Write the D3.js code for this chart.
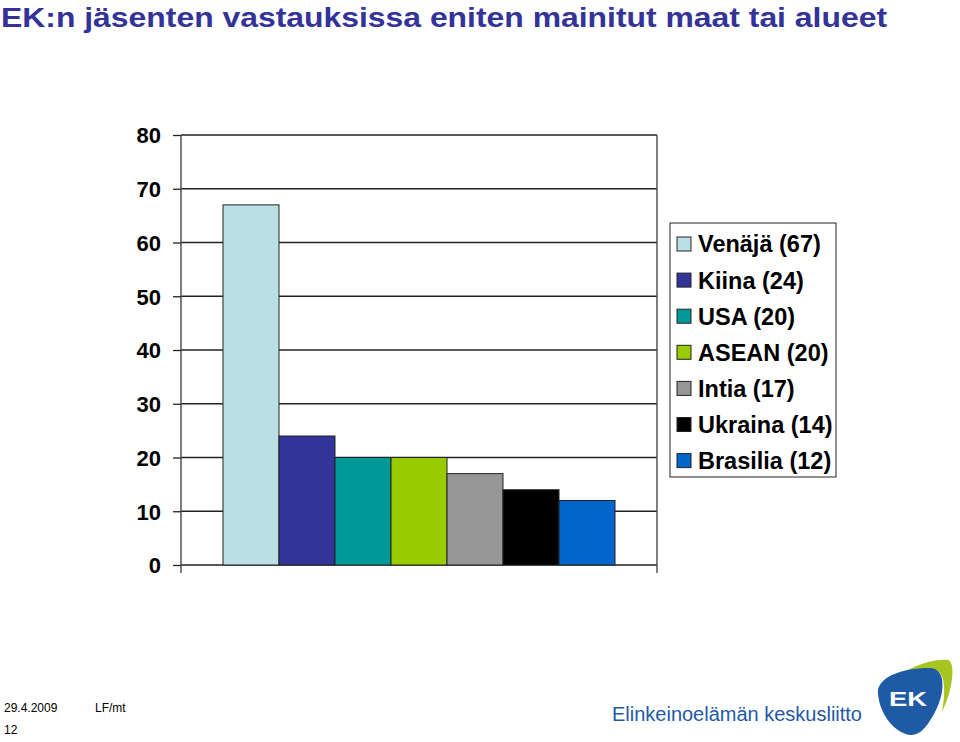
<!DOCTYPE html>
<html>
<head>
<meta charset="utf-8">
<script src="https://cdn.jsdelivr.net/npm/d3@7"></script>
<style>
  html, body { margin: 0; padding: 0; background: #fff; }
  svg { display: block; }
  text { font-family: "Liberation Sans", Arial, sans-serif; }
</style>
</head>
<body>
<svg id="chart" width="960" height="742"></svg>
<script>
// ---- data ----
const categories = ["Venäjä", "Kiina", "USA", "ASEAN", "Intia", "Ukraina", "Brasilia"];
const values = [67, 24, 20, 20, 17, 14, 12];
const colors = ["#BBE0E3", "#333399", "#009999", "#99CC00", "#969696", "#000000", "#0066CC"];
const yTicks = [0, 10, 20, 30, 40, 50, 60, 70, 80];
const titleText = "EK:n jäsenten vastauksissa eniten mainitut maat tai alueet";

(function () {
const svg = d3.select("#chart");

// title
svg.append("text")
  .attr("x", 1).attr("y", 27)
  .attr("font-size", 28.5).attr("font-weight", "bold")
  .attr("fill", "#333399")
  .attr("textLength", 886).attr("lengthAdjust", "spacingAndGlyphs")
  .text(titleText);

// plot area
const pL = 181, pR = 657, pT = 135, pB = 565;
const y = d3.scaleLinear().domain([0, 80]).range([pB, pT]);
const x = d3.scaleBand().domain(categories).range([pL, pR]).paddingInner(0).paddingOuter(0.75);

// gridlines
svg.append("g").selectAll("line").data(yTicks).join("line")
  .attr("x1", pL).attr("x2", pR)
  .attr("y1", d => y(d)).attr("y2", d => y(d))
  .attr("stroke", "#222").attr("stroke-width", 1.3);

// right border + category tick
svg.append("line").attr("x1", pR).attr("x2", pR).attr("y1", pT).attr("y2", pB + 8)
  .attr("stroke", "#555").attr("stroke-width", 1.5);

// bars
svg.append("g").selectAll("rect").data(values).join("rect")
  .attr("x", (d, i) => x(categories[i]))
  .attr("y", d => y(d))
  .attr("width", x.bandwidth())
  .attr("height", d => pB - y(d))
  .attr("fill", (d, i) => colors[i])
  .attr("stroke", "#222").attr("stroke-width", 1);

// y axis
const yAxis = d3.axisLeft(y).tickValues(yTicks).tickSize(8).tickPadding(12).tickSizeOuter(0);
const ga = svg.append("g").attr("transform", `translate(${pL},0)`).call(yAxis);
ga.select(".domain").attr("d", `M0,${pT}V${pB + 8}`).attr("stroke", "#555").attr("stroke-width", 1.5);
ga.selectAll(".tick line").attr("stroke", "#222").attr("stroke-width", 1.3);
ga.selectAll(".tick text")
  .attr("font-size", 22).attr("font-weight", "bold").attr("fill", "#000")
  .attr("font-family", "Liberation Sans, Arial, sans-serif")
  .attr("dy", "0.36em");

// legend
const lg = svg.append("g");
lg.append("rect").attr("x", 670).attr("y", 223).attr("width", 166).attr("height", 254)
  .attr("fill", "#fff").attr("stroke", "#222").attr("stroke-width", 1);
const items = lg.selectAll("g.item").data(categories).join("g").attr("class", "item")
  .attr("transform", (d, i) => `translate(0, ${244 + i * 36.1})`);
items.append("rect").attr("x", 677).attr("y", -7).attr("width", 14).attr("height", 14)
  .attr("fill", (d, i) => colors[i]).attr("stroke", "#222").attr("stroke-width", 1);
items.append("text").attr("x", 698).attr("y", 0).attr("dy", "0.36em")
  .attr("font-size", 23.5).attr("font-weight", "bold").attr("fill", "#000")
  .text((d, i) => `${d} (${values[i]})`);

// footer
svg.append("text").attr("x", 4).attr("y", 712).attr("font-size", 12).attr("fill", "#000").text("29.4.2009");
svg.append("text").attr("x", 95).attr("y", 712).attr("font-size", 12).attr("fill", "#000").text("LF/mt");
svg.append("text").attr("x", 4).attr("y", 734).attr("font-size", 12).attr("fill", "#000").text("12");

svg.append("text").attr("x", 612).attr("y", 721).attr("font-size", 20).attr("fill", "#2459A5")
  .attr("textLength", 250).attr("lengthAdjust", "spacingAndGlyphs")
  .text("Elinkeinoelämän keskusliitto");

// EK logo
const logo = svg.append("g");
logo.append("path")
  .attr("d", "M880,690 C900,670 930,658 948,660 C956,662 953,690 942,712 C946,690 945,672 935,670 C915,668 895,678 880,690 Z")
  .attr("fill", "#A7C520");
logo.append("path")
  .attr("d", "M878,694 C876,678 900,668 930,668 C945,668 946,690 936,710 C928,726 920,736 910,735 C895,733 880,715 878,694 Z")
  .attr("fill", "#1F5AA6");
logo.append("text").attr("x", 889).attr("y", 706).attr("font-size", 20).attr("font-weight", "bold")
  .attr("fill", "#fff").attr("textLength", 38).attr("lengthAdjust", "spacingAndGlyphs").text("EK");
})();
</script>
</body>
</html>
